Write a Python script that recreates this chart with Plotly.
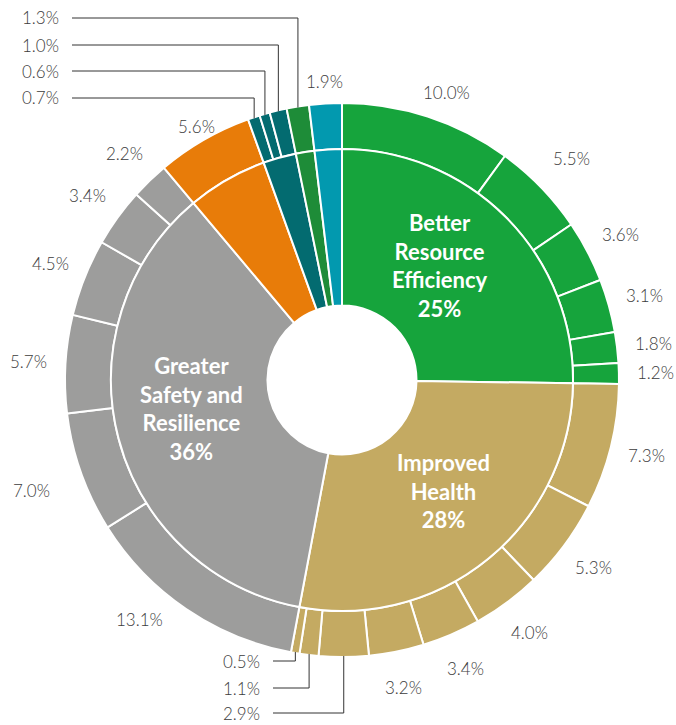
import math
import plotly.graph_objects as go

# ---- data -------------------------------------------------------------
group_names = [
    "Better Resource Efficiency",
    "Improved Health",
    "Greater Safety and Resilience",
    "Group D",
    "Group E",
    "Group F",
    "Group G",
]
group_colors = ["#16A43C", "#C4AA62", "#9D9D9C", "#E87C09", "#036B70", "#1E8C38", "#0299AF"]

resource_efficiency = [10.0, 5.5, 3.6, 3.1, 1.8, 1.2]
improved_health = [7.3, 5.3, 4.0, 3.4, 3.2, 2.9, 1.1, 0.5]
safety_resilience = [13.1, 7.0, 5.7, 4.5, 3.4, 2.2]
group_d = [5.6]
group_e = [0.7, 0.6, 1.0]
group_f = [1.3]
group_g = [1.9]

sub_groups = [resource_efficiency, improved_health, safety_resilience,
              group_d, group_e, group_f, group_g]

# ---- derived series ---------------------------------------------------
inner_values = [round(sum(s), 2) for s in sub_groups]
outer_values, outer_colors, outer_labels = [], [], []
for gi, subs in enumerate(sub_groups):
    for v in subs:
        outer_values.append(v)
        outer_colors.append(group_colors[gi])
        outer_labels.append(f"{v:.1f}%")

# ---- geometry (pixels) ------------------------------------------------
W, H = 676, 725
CX, CY = 342, 380
R_OUT, R_MID, R_HOLE = 277, 231, 74.5

def px(x):
    return x / W

def py(y):
    return 1 - y / H

def polar(r, deg):
    a = math.radians(deg)
    return CX + r * math.sin(a), CY - r * math.cos(a)

fig = go.Figure()

fig.add_trace(go.Pie(
    values=outer_values,
    labels=[f"o{i}" for i in range(len(outer_values))],
    marker=dict(colors=outer_colors, line=dict(color="white", width=2)),
    sort=False, direction="clockwise", rotation=0,
    hole=R_MID / R_OUT,
    textinfo="none", hoverinfo="skip", showlegend=False,
    domain=dict(x=[px(CX - R_OUT), px(CX + R_OUT)],
                y=[py(CY + R_OUT), py(CY - R_OUT)]),
))

fig.add_trace(go.Pie(
    values=inner_values,
    labels=group_names,
    marker=dict(colors=group_colors, line=dict(color="white", width=2)),
    sort=False, direction="clockwise", rotation=0,
    hole=R_HOLE / R_MID,
    textinfo="none", hoverinfo="skip", showlegend=False,
    domain=dict(x=[px(CX - R_MID), px(CX + R_MID)],
                y=[py(CY + R_MID), py(CY - R_MID)]),
))

# ---- slice angles -----------------------------------------------------
total = sum(outer_values)
mids = []
acc = 0.0
for v in outer_values:
    mids.append((acc + v / 2) / total * 360)
    acc += v

label_font = dict(family="Lato, 'Open Sans', sans-serif", size=17,
                  color="#3c3c3c", weight=300)
annotations = []
shapes = []

# indices of slices labelled through leader lines, with label anchor (right edge x, y)
leader_top = {
    len(outer_values) - 2: (61, 18),   # 1.3
    len(outer_values) - 3: (61, 45),   # 1.0
    len(outer_values) - 4: (61, 71),   # 0.6
    len(outer_values) - 5: (61, 98),   # 0.7
}
n_eff = len(resource_efficiency)
n_hlt = len(improved_health)
leader_bottom = {
    n_eff + n_hlt - 1: (262, 661),  # 0.5
    n_eff + n_hlt - 2: (262, 688),  # 1.1
    n_eff + n_hlt - 3: (262, 713),  # 2.9
}
radial_tweak = {
    0: -8,                                            # 10.0
    1: 5,                                             # 5.5
    n_eff + n_hlt + len(safety_resilience) - 5: 16,   # 7.0
    n_eff + n_hlt + len(safety_resilience): -22,      # 5.6
    len(outer_values) - 1: -15,                       # 1.9
}
angle_tweak = {0: 2, n_eff + n_hlt: 6}  # 10.0, 13.1

for i, lab in enumerate(outer_labels):
    if i in leader_top or i in leader_bottom:
        lx, ly = leader_top.get(i) or leader_bottom.get(i)
        ex, ey = polar(R_OUT - 1, mids[i])
        annotations.append(dict(
            x=px(lx), y=py(ly), xref="paper", yref="paper",
            text=lab, showarrow=False, xanchor="right", yanchor="middle",
            font=label_font))
        shapes.append(dict(
            type="path", xref="paper", yref="paper",
            path=f"M {px(lx + 11)} {py(ly)} L {px(ex)} {py(ly)} L {px(ex)} {py(ey)}",
            line=dict(color="#333333", width=1)))
        continue
    r = 314 + radial_tweak.get(i, 0)
    x, y = polar(r, mids[i] + angle_tweak.get(i, 0))
    annotations.append(dict(
        x=px(x), y=py(y), xref="paper", yref="paper",
        text=lab, showarrow=False, xanchor="center", yanchor="middle",
        font=label_font))

# ---- inner ring titles ------------------------------------------------
title_pos = [(440, 265), (443, 491), (191, 408)]
title_text = [
    "Better<br>Resource<br>Efficiency",
    "Improved<br>Health",
    "Greater<br>Safety and<br>Resilience",
]
for (x, y), t, v in zip(title_pos, title_text, inner_values[:3]):
    annotations.append(dict(
        x=px(x), y=py(y), xref="paper", yref="paper",
        text=f"<b>{t}<br>{round(v)}%</b>", showarrow=False,
        xanchor="center", yanchor="middle", align="center",
        font=dict(family="Lato, 'Open Sans', sans-serif", size=22, color="white")))

fig.update_layout(
    width=W, height=H,
    margin=dict(l=0, r=0, t=0, b=0),
    paper_bgcolor="white", plot_bgcolor="white",
    annotations=annotations, shapes=shapes,
)

fig.write_html("out.html")
